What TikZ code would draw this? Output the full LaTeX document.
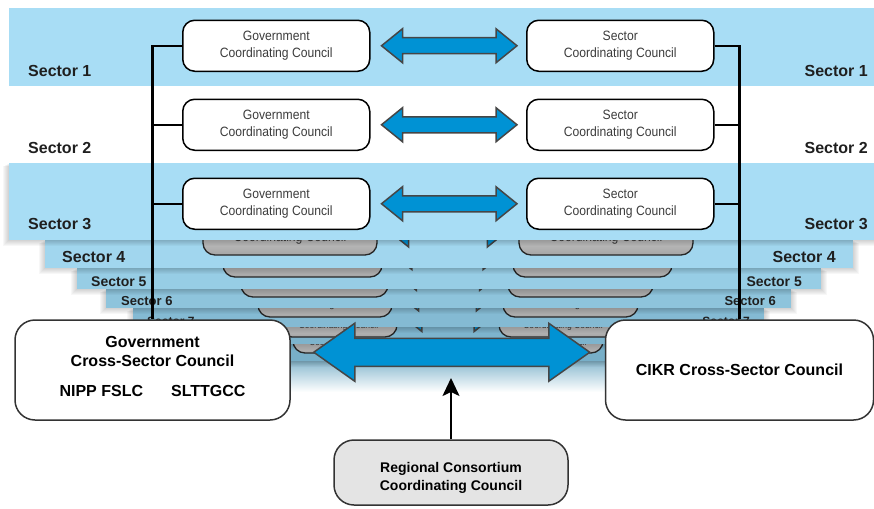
\documentclass[tikz,border=0pt]{standalone}
\usepackage{fontspec}
\setmainfont{Liberation Sans}
\newfontfamily\narrowfont[FakeStretch=0.9]{Liberation Sans}
\usetikzlibrary{matrix,positioning,calc,arrows.meta}

\definecolor{bandblue}{RGB}{168,221,245}
\definecolor{deepblue}{RGB}{120,175,200}
\definecolor{arrowblue}{RGB}{0,146,212}
\definecolor{arrowedge}{RGB}{70,70,70}
\definecolor{cctext}{RGB}{60,60,60}
\definecolor{rcgrey}{RGB}{228,228,228}

% double block arrow between two points: ends, shaft half width, head half width, head length
\newcommand\dblarrow[5]{%
  \draw[blockarrow] let \p1=#1, \p2=#2 in
    (\x1,\y1) -- (\x1+#5,\y1+#4) -- (\x1+#5,\y1+#3) -- (\x2-#5,\y1+#3) -- (\x2-#5,\y1+#4) -- (\x2,\y1)
    -- (\x2-#5,\y1-#4) -- (\x2-#5,\y1-#3) -- (\x1+#5,\y1-#3) -- (\x1+#5,\y1-#4) -- cycle;}
% soft shadow round a band: left, right, top, bottom
\newcommand\bandshade[4]{%
  \foreach \e in {1,...,6}
    \fill[black,opacity=0.03] ({#1-\e},{#3+0.5*\e}) rectangle ({#2+\e},{#4+\e});}
\newcommand\govcc{\begin{tabular}{@{}c@{}}Government\\Coordinating Council\end{tabular}}
\newcommand\seccc{\begin{tabular}{@{}c@{}}Sector\\Coordinating Council\end{tabular}}

\begin{document}
\begin{tikzpicture}[x=1pt,y=-1pt,
    ccbox/.style={draw,line width=1.5pt,fill=white,rounded corners=12pt,minimum width=187pt,minimum height=51pt,
      text=cctext,font=\narrowfont\fontsize{13.5}{17}\selectfont},
    ghostbox/.style={draw=black!85,line width=1.3pt,rounded corners=12pt,top color=black!4,bottom color=black!35,
      text=cctext},
    secname/.style={font=\bfseries\fontsize{16}{19}\selectfont,text=black!88,inner sep=0pt},
    crossbox/.style={draw=black!80,line width=1.5pt,fill=white,rounded corners=20pt,align=center,
      font=\bfseries\fontsize{16}{19}\selectfont},
    blockarrow/.style={fill=arrowblue,draw=arrowedge,line width=1.5pt},
    bus/.style={line width=2.4pt}]
    \useasboundingbox (0,0) rectangle (874,508);

    % the stack of further sectors, back to front
    \path[top color=deepblue,bottom color=white] (200,356) rectangle (700,392);
    \foreach \k/\m/\y/\a/\b/\t/\u/\p/\q/\r/\s/\f/\h in {
        9/0/353/190/710/343/361/293/401/495/603/9/30,
        8/10/337/160/737/326/344/280/397/499/627/9.5/34,
        7/25/317/133/764/308/327/258/392/503/638/10.5/38,
        6/45/297/106/791/289/308/241/388/508/653/11.5/42,
        5/65/277/77/821/268/289/223/382/513/672/12.5/46,
        4/85/255/45/853/240/268/203/377/519/693/13.5/50}{
        \pgfmathsetmacro\bs{1.25*\f}
        \pgfmathsetmacro\sc{\h/50}
        \bandshade{\a}{\b}{\t}{\u}
        \fill[bandblue!\m!deepblue] (\a,\t) rectangle (\b,\u);
        \node[ghostbox,minimum width=\q-\p,minimum height=\h,font=\narrowfont\fontsize{\f}{\bs}\selectfont]
            (gl\k) at ({(\p+\q)/2},{\y-\h/2}) {\govcc};
        \node[ghostbox,minimum width=\s-\r,minimum height=\h,font=\narrowfont\fontsize{\f}{\bs}\selectfont]
            (gr\k) at ({(\r+\s)/2},{\y-\h/2}) {\seccc};
        \dblarrow{($(gl\k.east)+(10,0)$)}{($(gr\k.west)+(-10,0)$)}{\sc*8pt}{\sc*17pt}{\sc*21pt}
    }
    \foreach \k/\lx/\rx/\by/\ls in {4/62/836/262/16,5/91/802/286/14,6/121/776/305/13,7/147/750/325/12}{
        \node[secname,anchor=base west,font=\bfseries\fontsize{\ls}{\ls}\selectfont] (sl\k) at (\lx,\by) {Sector \k};
        \node[secname,anchor=base east,font=\bfseries\fontsize{\ls}{\ls}\selectfont] (sr\k) at (\rx,\by) {Sector \k};
    }

    % sectors 1 to 3
    \bandshade{9}{874}{163}{240}
    \fill[bandblue] (9,163) rectangle (874,240);
    \fill[bandblue] (9,8) rectangle (874,86);
    \matrix (cc) [matrix of nodes,column sep=155.5pt,row sep=26.5pt,nodes={ccbox}] at (448.25,124.75) {
        \govcc & \seccc \\
        \govcc & \seccc \\
        \govcc & \seccc \\
    };
    \foreach \k/\by in {1/77,2/153,3/229}{
        \node[secname,anchor=base west] (sl\k) at (28,\by) {Sector \k};
        \node[secname,anchor=base east] (sr\k) at (868,\by) {Sector \k};
        \dblarrow{($(cc-\k-1.east)+(11,0)$)}{($(cc-\k-2.west)+(-9,0)$)}{8pt}{17pt}{21pt}
    }

    % cross-sector councils
    \node[crossbox,minimum width=275pt,minimum height=100pt] (gcs) at (152.5,370)
        {Government\\Cross-Sector Council\\[11pt]NIPP FSLC\hspace{28pt}SLTTGCC\rule[-7pt]{0pt}{7pt}};
    \node[crossbox,minimum width=268pt,minimum height=100pt] (cikr) at (739.5,370) {CIKR Cross-Sector Council};
    \node[crossbox,fill=rcgrey,minimum width=234pt,minimum height=65pt,font=\bfseries\fontsize{14}{18}\selectfont]
        (rcc) at (451,472.5) {\rule{0pt}{20pt}Regional Consortium\\Coordinating Council};

    \draw[bus] (cc-1-1.west) -| (gcs.north);                     % government side
    \draw[bus] (cc-2-1.west) -- (cc-2-1.west -| gcs.north);
    \draw[bus] (cc-3-1.west) -- (cc-3-1.west -| gcs.north);
    \draw[bus] (cc-1-2.east) -| (cikr.north);                    % sector side
    \draw[bus] (cc-2-2.east) -- (cc-2-2.east -| cikr.north);
    \draw[bus] (cc-3-2.east) -- (cc-3-2.east -| cikr.north);

    \dblarrow{($(gcs.north east)+(23,33)$)}{($(cikr.north west)+(-15,33)$)}{14pt}{29pt}{41pt}
    \coordinate (uptip) at (451,378);
    \draw[line width=2pt,-{Stealth[length=18pt,width=17pt,inset=4pt]}] (rcc.north) -- (uptip);
\end{tikzpicture}
\end{document}
